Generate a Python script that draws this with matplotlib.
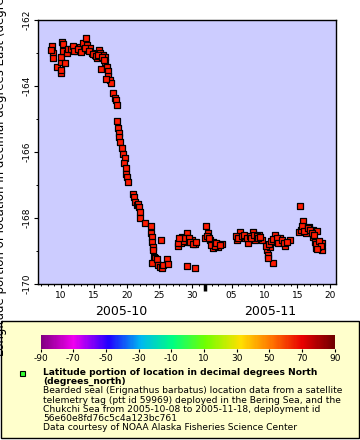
import matplotlib
matplotlib.use("Agg")
import matplotlib.pyplot as plt
import matplotlib.dates as mdates
import matplotlib.transforms as mtransforms
from matplotlib.colors import LinearSegmentedColormap, Normalize
from matplotlib.cm import ScalarMappable
from matplotlib.patches import Rectangle
import numpy as np
import pandas as pd

plt.rcParams['font.family'] = ['DejaVu Sans']
plt.rcParams['axes.unicode_minus'] = False

# observation time as day counted from 2005-10-01 (= day 1); November days continue past 31
obs_day = [
    8.58, 8.73, 8.73, 8.48, 9.39, 10.0, 10.0, 10.0, 10.05, 10.15, 10.3, 10.35, 10.6,
    10.91, 11.11, 11.52, 11.83, 12.44, 12.9, 13.2, 13.35, 13.81, 13.92, 14.12, 14.42,
    14.73, 15.18, 15.49, 15.79, 15.95, 16.1, 16.4, 16.71, 16.75, 17.01, 17.16, 17.21,
    17.47, 17.62, 16.86, 12.0, 12.6, 13.0, 13.6, 14.3, 14.9, 15.3, 15.6, 16.2, 16.5,
    17.93, 18.23, 18.38, 18.54, 18.58, 18.73, 18.84, 18.89, 18.99, 19.25, 19.5, 19.76,
    19.6, 19.86, 19.91, 20.06, 20.26, 20.98, 21.17, 21.28, 21.54, 21.74, 21.94, 22.04,
    22.04, 22.8, 23.67, 23.67, 23.83, 23.92, 23.98, 24.07, 24.18, 24.33, 23.87, 24.63,
    24.83, 25.09, 25.35, 25.59, 26.11, 26.26, 25.24,
    27.84, 28.45, 29.21, 29.36, 29.97, 30.43, 28.14, 29.21, 30.43,
    28.3, 28.6, 28.9, 29.5, 29.7, 30.1, 30.6, 27.9, 28.0,
    32.1, 32.41, 31.95, 32.71, 33.17, 33.17, 33.78, 34.54, 33.93,
    32.3, 32.5, 32.9, 33.4, 33.6, 34.2,
    36.83, 37.29, 38.05, 38.5, 39.27, 39.57, 40.18, 40.64,
    36.7, 37.0, 37.6, 37.9, 38.3, 38.8, 39.0, 39.4, 39.8, 40.0, 40.4,
    41.4, 41.55, 41.86, 42.62, 42.47, 42.32, 43.38, 44.15, 44.91,
    41.3, 41.7, 42.0, 42.3, 42.9, 43.1, 43.7, 44.0, 44.5, 41.5,
    46.43, 46.28, 46.89, 46.89, 47.35, 47.8, 48.41, 49.02, 48.41, 48.72, 48.87,
    49.79, 49.79, 49.18,
    46.5, 46.7, 47.1, 47.6, 48.0, 48.2, 48.6, 48.9, 49.3, 49.6, 49.0,
]
longitude = [
    -162.79, -163.0, -163.15, -162.91, -163.42, -163.61, -163.52, -163.27, -163.12,
    -162.67, -162.73, -162.94, -163.30, -163.0, -162.88, -162.88, -162.79, -162.94,
    -162.82, -162.91, -162.70, -162.55, -162.76, -162.91, -162.85, -163.0, -163.06,
    -163.15, -162.91, -163.0, -163.48, -163.06, -163.27, -163.12, -163.42, -163.55,
    -163.70, -163.82, -163.91, -163.79, -162.95, -162.88, -162.96, -162.84, -162.95,
    -163.02, -163.1, -163.05, -163.12, -163.2,
    -164.21, -164.36, -164.42, -164.58, -165.06, -165.27, -165.42, -165.55, -165.70,
    -165.88, -166.06, -166.18, -166.33, -166.48, -166.67, -166.76, -166.91, -167.27,
    -167.36, -167.52, -167.61, -167.58, -167.67, -167.82, -168.0, -168.15, -168.24,
    -168.45, -168.58, -168.73, -168.88, -168.97, -169.18, -169.21, -169.36, -169.24,
    -169.42, -169.48, -169.52, -169.42, -169.24, -169.39, -168.67,
    -168.85, -168.58, -168.45, -168.73, -168.67, -168.79, -168.67, -169.45, -169.52,
    -168.75, -168.7, -168.62, -168.6, -168.72, -168.78, -168.72, -168.75, -168.6,
    -168.24, -168.45, -168.61, -168.67, -168.73, -168.91, -168.79, -168.79, -168.88,
    -168.55, -168.62, -168.82, -168.85, -168.75, -168.82,
    -168.67, -168.42, -168.61, -168.76, -168.42, -168.67, -168.52, -168.67,
    -168.55, -168.6, -168.55, -168.5, -168.6, -168.55, -168.6, -168.5, -168.55,
    -168.62, -168.58,
    -168.97, -169.12, -168.88, -168.52, -168.73, -169.36, -168.61, -168.85, -168.67,
    -168.85, -168.8, -168.7, -168.65, -168.62, -168.75, -168.68, -168.75, -168.72,
    -169.2,
    -167.64, -168.42, -168.09, -168.33, -168.45, -168.27, -168.36, -168.39, -168.58,
    -168.73, -168.91, -168.76, -168.97, -168.88,
    -168.35, -168.25, -168.38, -168.3, -168.35, -168.45, -168.5, -168.8, -168.7,
    -168.85, -168.95,
]

cbar_ticks = [-90, -70, -50, -30, -10, 10, 30, 50, 70, 90]
cbar_colors = ['#800080', '#f000f0', '#2000ff', '#00b8f0', '#00ff80',
               '#70ff00', '#ffe000', '#ff7000', '#e80000', '#700000']
cbar_pos = [0.0, 0.11, 0.23, 0.34, 0.45, 0.56, 0.68, 0.79, 0.89, 1.0]

ylabel = "Longitude portion of location in decimal degrees East (degrees_east)"
legend_title = ["Latitude portion of location in decimal degrees North",
                "(degrees_north)"]
legend_lines = ["Bearded seal (Erignathus barbatus) location data from a satellite",
                "telemetry tag (ptt id 59969) deployed in the Bering Sea, and the",
                "Chukchi Sea from 2005-10-08 to 2005-11-18, deployment id",
                "56e60e8fd76c5c4a123bc761",
                "Data courtesy of NOAA Alaska Fisheries Science Center"]

times = pd.Timestamp('2005-09-30') + pd.to_timedelta(np.array(obs_day), unit='D')

fig = plt.figure(figsize=(3.6, 4.4), dpi=100)
fig.patch.set_facecolor('white')

# legend panel behind everything else
fig.patches.append(Rectangle((0.0015, 0.004), 0.996, 0.267, transform=fig.transFigure,
                             facecolor='#ffffcc', edgecolor='black', lw=1.0, zorder=-5))

ax = fig.add_axes([0.1047, 0.3545, 0.828, 0.6])
ax.set_facecolor('#ccccff')
ax.scatter(times, longitude, marker='s', s=24, c='#ff1a00', edgecolors='black',
           linewidths=0.9, zorder=3)

x0 = pd.Timestamp('2005-10-06 10:48')
x1 = pd.Timestamp('2005-11-20 20:53')
ax.set_xlim(x0, x1)
ax.set_ylim(-170, -162)

ax.xaxis.set_major_locator(mdates.DayLocator(bymonthday=[5, 10, 15, 20, 25, 30]))
ax.xaxis.set_minor_locator(mdates.DayLocator())
ax.xaxis.set_major_formatter(mdates.DateFormatter('%d'))
ax.set_yticks(np.arange(-170, -161, 2))
ax.set_yticks(np.arange(-170, -161, 1), minor=True)
ax.tick_params(axis='both', which='major', length=3.2, width=0.8, labelsize=6.5,
               direction='out', pad=1.5)
ax.tick_params(axis='both', which='minor', length=1.6, width=0.7, direction='out')
for lab in ax.get_yticklabels():
    lab.set_rotation(90)
    lab.set_va('center')
for sp in ax.spines.values():
    sp.set_linewidth(1.0)

# month boundary mark and month names
nov1 = pd.Timestamp('2005-11-01')
trans = mtransforms.blended_transform_factory(ax.transData, ax.transAxes)
ax.plot([nov1, nov1], [0, -0.027], transform=trans, clip_on=False, color='black',
        lw=2.5, solid_capstyle='butt')
ax.text(x0 + (nov1 - x0) / 2, -0.105, '2005-10', transform=trans, ha='center',
        va='center', fontsize=9)
ax.text(nov1 + (x1 - nov1) / 2, -0.105, '2005-11', transform=trans, ha='center',
        va='center', fontsize=9)

ax.set_ylabel(ylabel, fontsize=8.5)
ax.yaxis.set_label_coords(-0.104, 0.5)

# colour bar in the legend panel
cmap = LinearSegmentedColormap.from_list('pal', list(zip(cbar_pos, cbar_colors)))
cax = fig.add_axes([0.113, 0.2075, 0.8167, 0.0318])
cb = fig.colorbar(ScalarMappable(norm=Normalize(-90, 90), cmap=cmap), cax=cax,
                  orientation='horizontal')
cb.outline.set_visible(False)
cb.set_ticks(cbar_ticks)
cb.set_ticklabels([str(t) for t in cbar_ticks])
cax.tick_params(length=2.5, width=0.8, labelsize=6.5, pad=1.5)

# legend entry
fig.patches.append(Rectangle((19.5 / 360, 1 - 376 / 440), 5.5 / 360, 5.5 / 440,
                             transform=fig.transFigure, facecolor='#33ff33',
                             edgecolor='black', lw=0.8))
y = 1 - 372.7 / 440
for t in legend_title:
    fig.text(43 / 360, y, t, fontsize=6.6, fontweight='bold', va='center')
    y -= 9.1 / 440
for t in legend_lines:
    fig.text(43 / 360, y, t, fontsize=6.6, va='center')
    y -= 9.1 / 440

fig.savefig('out.png', dpi=100)
